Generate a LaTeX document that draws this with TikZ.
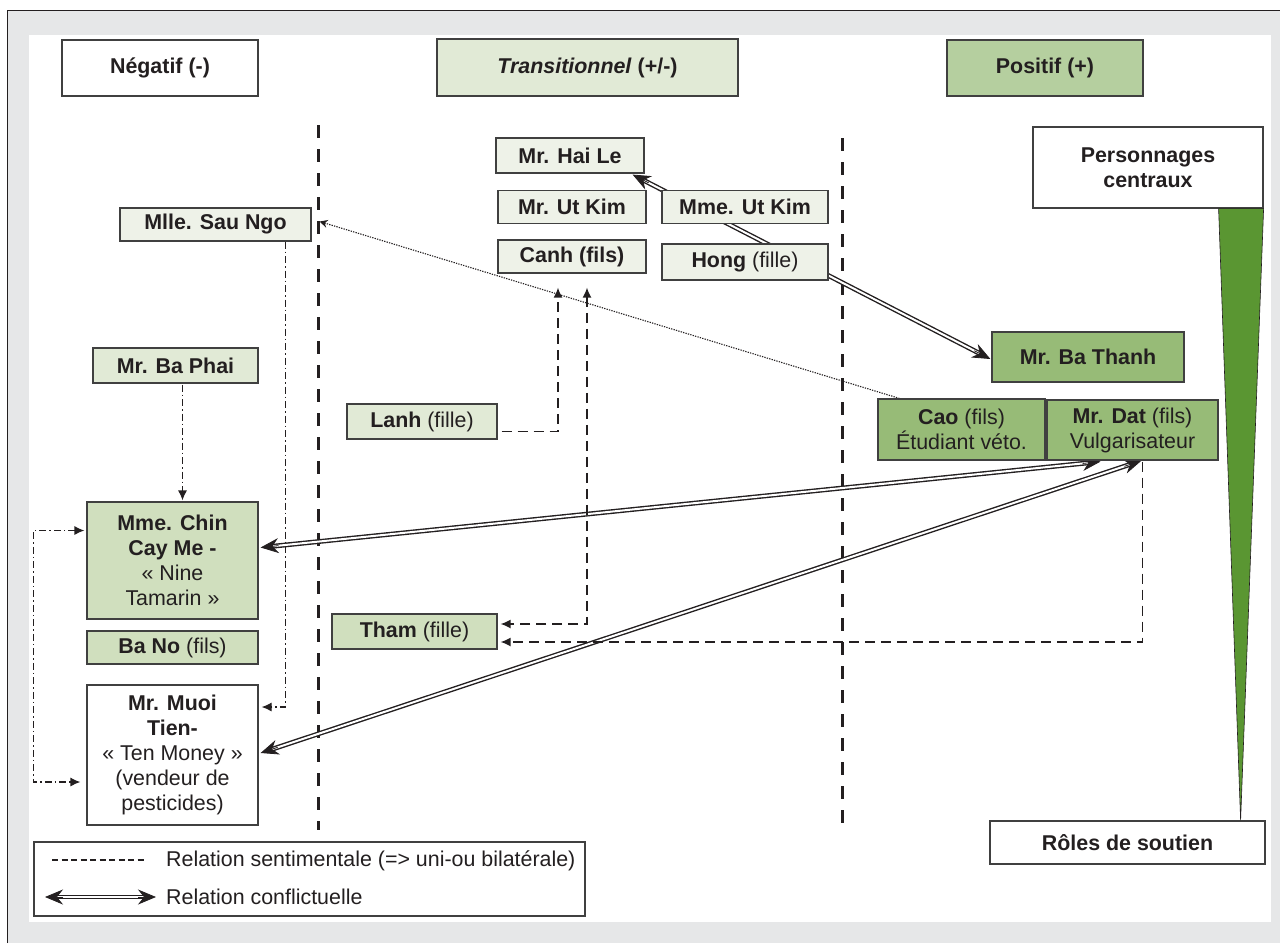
\documentclass[tikz,border=0pt]{standalone}
\usepackage{fontspec}
\setmainfont{Liberation Sans}
\usetikzlibrary{arrows.meta,calc}
\definecolor{txt}{HTML}{231F20}
\definecolor{bord}{HTML}{404040}
\definecolor{bggray}{HTML}{E6E7E8}
\definecolor{cvlight}{HTML}{EEF2E8}
\definecolor{clight}{HTML}{E1EAD6}
\definecolor{cmed}{HTML}{D0DFBE}
\definecolor{cpos}{HTML}{B5CF9F}
\definecolor{cstrong}{HTML}{97BB77}
\definecolor{ctri}{HTML}{5A9632}
\pgfdeclarelayer{bg}
\pgfdeclarelayer{edges}
\pgfsetlayers{bg,edges,main}
\newcommand\confarrow[2]{%
  \draw[confshaft] (#1) -- (#2);
  \draw[conftip] ($(#1)!18pt!(#2)$) -- (#1);
  \draw[conftip] ($(#2)!18pt!(#1)$) -- (#2);}
\begin{document}
\begin{tikzpicture}[x=1pt,y=-1pt,
  font=\fontsize{21.4}{25}\selectfont, text=txt,
  box/.style={draw=bord, line width=1.2pt, inner sep=0pt, align=center, text=txt},
  divider/.style={draw=txt, line width=3pt, dash pattern=on 13pt off 11pt},
  confshaft/.style={draw=txt, double=white, double distance=2pt, line width=1.4pt, shorten <=12pt, shorten >=12pt},
  conftip/.style={draw=txt, fill=txt, line width=0.8pt, -{Stealth[length=18pt,width=15pt,inset=6pt]}},
  sent/.style={draw=txt, line width=1.4pt, dash pattern=on 10pt off 6pt},
  stip/.style={-{Latex[length=10pt,width=9pt]}},
  stips/.style={{Latex[length=10pt,width=9pt]}-{Latex[length=10pt,width=9pt]}},
  dd/.style={draw=txt, line width=1.2pt, dash pattern=on 7pt off 3pt on 1.5pt off 3pt},
  dtip/.style={-{Latex[length=10pt,width=9pt]}},
  dtips/.style={{Latex[length=10pt,width=9pt]}-{Latex[length=10pt,width=9pt]}},
  dotline/.style={draw=txt, line width=1.1pt, dash pattern=on 1.3pt off 1.2pt},
  legdash/.style={draw=txt, line width=2pt, dash pattern=on 6pt off 3.5pt},
  ]
\useasboundingbox (0,0) rectangle (1280,943);
\begin{pgfonlayer}{bg}
  \fill[bggray] (7,10) rectangle (1280,943);
  \draw[txt, line width=1pt] (7,943) -- (7,10) -- (1280,10);
  \fill[white] (29,35) rectangle (1271,922);
  \draw[divider] (318,125) -- (318,830);
  \draw[divider] (842,138) -- (842,823);
\end{pgfonlayer}

% headers
\node[box, fill=white, minimum width=196pt, minimum height=56pt] (neg) at (160,68) {\textbf{Négatif (-)}};
\node[box, fill=clight, minimum width=301pt, minimum height=57pt] (trans) at (587.5,67.5) {\textbf{\textit{Transitionnel} (+/-)}};
\node[box, fill=cpos, minimum width=196pt, minimum height=56pt] (pos) at (1045,68) {\textbf{Positif (+)}};
\node[box, fill=white, minimum width=230pt, minimum height=81pt] (pers) at (1148,167.5) {\textbf{Personnages}\\\textbf{centraux}};
\node[box, fill=white, minimum width=275pt, minimum height=43pt] (roles) at (1127.5,842.5) {\textbf{Rôles de soutien}};

% transitional column
\node[box, fill=cvlight, minimum width=148pt, minimum height=35pt] (hai) at (570,155.5) {\textbf{Mr. Hai Le}};
\node[box, fill=cvlight, minimum width=148pt, minimum height=33pt] (utkim) at (572,207) {\textbf{Mr. Ut Kim}};
\node[box, fill=cvlight, minimum width=148pt, minimum height=33pt] (canh) at (572,256.5) {\textbf{Canh (fils)}};
\node[box, fill=cvlight, minimum width=166pt, minimum height=33pt] (mmeut) at (745,207) {\textbf{Mme. Ut Kim}};
\node[box, fill=cvlight, minimum width=166pt, minimum height=36pt] (hong) at (745,262) {\textbf{Hong} (fille)};
\node[box, fill=clight, minimum width=150pt, minimum height=35pt] (lanh) at (422,421.5) {\textbf{Lanh} (fille)};
\node[box, fill=cmed, minimum width=165pt, minimum height=35pt] (tham) at (414.5,631.5) {\textbf{Tham} (fille)};

% negative column
\node[box, fill=cvlight, minimum width=191pt, minimum height=33pt] (sau) at (215.5,224.5) {\textbf{Mlle. Sau Ngo}};
\node[box, fill=clight, minimum width=165pt, minimum height=35pt] (baphai) at (175.5,365.5) {\textbf{Mr. Ba Phai}};
\node[box, fill=cmed, minimum width=171pt, minimum height=117pt] (chin) at (172.5,560.5) {\textbf{Mme. Chin}\\\textbf{Cay Me -}\\«~Nine\\Tamarin~»};
\node[box, fill=cmed, minimum width=171pt, minimum height=33pt] (bano) at (172.5,647.5) {\textbf{Ba No} (fils)};
\node[box, fill=white, minimum width=171pt, minimum height=140pt] (muoi) at (172.5,755) {\textbf{Mr. Muoi}\\\textbf{Tien-}\\«~Ten Money~»\\(vendeur de\\pesticides)};

% positive column
\node[box, fill=cstrong, minimum width=192pt, minimum height=50pt] (thanh) at (1088,357) {\textbf{Mr. Ba Thanh}};
\node[box, fill=cstrong, minimum width=167pt, minimum height=61pt] (cao) at (961.5,429.5) {\textbf{Cao} (fils)\\Étudiant véto.};
\node[box, fill=cstrong, minimum width=171pt, minimum height=60pt] (dat) at (1132.5,430) {\textbf{Mr. Dat} (fils)\\Vulgarisateur};

% importance wedge
\draw[fill=ctri, draw=txt, line width=0.6pt] ($(pers.south east)+(-45,0)$) -- (pers.south east) -- ($(roles.north east)+(-25,0)$) -- cycle;

% legend
\node[box, minimum width=551pt, minimum height=74pt] (leg) at (309.5,879) {};
\node[anchor=west, inner sep=0pt] (lt1) at (166,861) {Relation sentimentale (=> uni-ou bilatérale)};
\node[anchor=west, inner sep=0pt] (lt2) at (166,897) {Relation conflictuelle};

\begin{pgfonlayer}{edges}
  % conflict relations
  \coordinate (h1) at ($(hai.south east)+(-12,1)$);
  \coordinate (h2) at ($(thanh.west)+(-1,2)$);
  \confarrow{h1}{h2}
  \coordinate (c1) at ($(dat.south)+(-32,1)$);
  \coordinate (c2) at ($(chin.east)+(2,-13)$);
  \confarrow{c1}{c2}
  \coordinate (m1) at ($(dat.south)+(9,0)$);
  \coordinate (m2) at ($(muoi.east)+(2,-2)$);
  \confarrow{m1}{m2}
  % sentimental relations
  \draw[sent, stip] ($(lanh.east)+(4,10)$) -| ($(canh.south)+(-14,14)$);
  \draw[sent, stips] ($(canh.south)+(15,14)$) |- ($(tham.east)+(3,-7.5)$);
  \draw[sent, stip] ($(dat.south)+(10,1)$) |- ($(tham.east)+(3,10.5)$);
  % dash-dot relations
  \draw[dd, dtip] ($(baphai.south)+(7,1)$) -- ($(chin.north)+(10,-1)$);
  \draw[dd, dtip] ($(sau.south)+(70,0)$) |- ($(muoi.east)+(3,-48)$);
  \draw[dd, dtips] ($(chin.west)+(-2,-30)$) -- ++(-51,0) |- ($(muoi.west)+(-6,27)$);
  % dotted relation
  \draw[dotline, {Stealth[length=8pt,width=8pt]}-] ($(sau.east)+(8,-3)$) -- ($(cao.north west)+(22,0)$);
\end{pgfonlayer}
% legend samples
\coordinate (la) at (52,860);
\coordinate (lb) at (145,860);
\draw[legdash] (la) -- (lb);
\coordinate (lc) at (45,897);
\coordinate (ld) at (156,897);
\confarrow{lc}{ld}
\end{tikzpicture}
\end{document}
